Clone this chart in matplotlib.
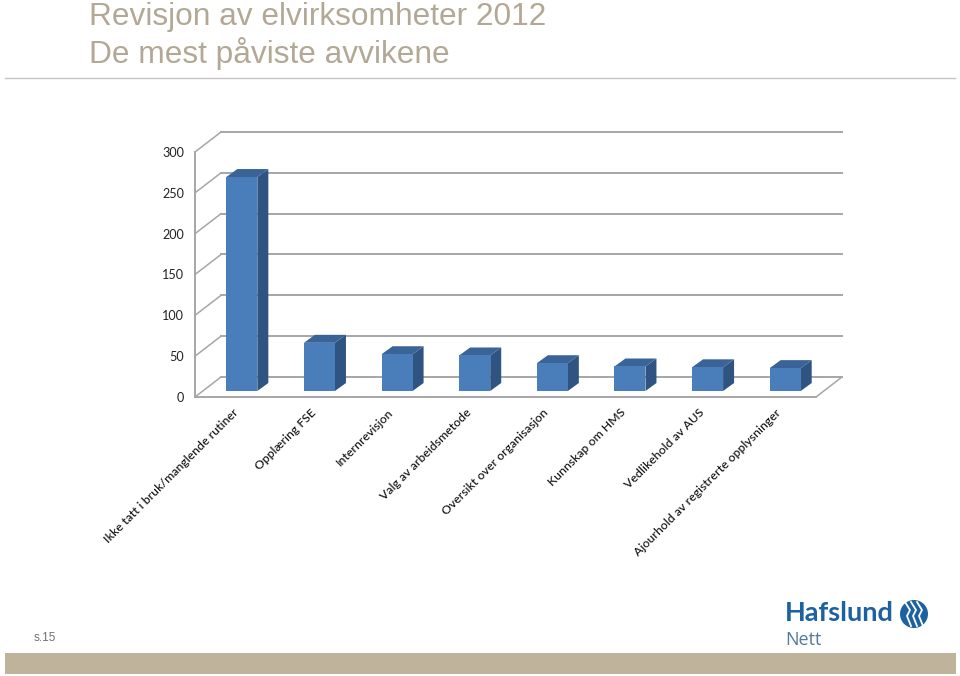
import matplotlib
matplotlib.use("Agg")
import matplotlib.pyplot as plt
from matplotlib.patches import Polygon, Circle, Rectangle
from matplotlib.transforms import ScaledTranslation
from matplotlib.lines import Line2D

categories = ["Ikke tatt i bruk/manglende rutiner", "Opplæring FSE", "Internrevisjon",
              "Valg av arbeidsmetode", "Oversikt over organisasjon", "Kunnskap om HMS",
              "Vedlikehold av AUS", "Ajourhold av registrerte opplysninger"]
values = [262, 59, 45, 43.5, 34, 30, 29, 28]
yticks = [0, 50, 100, 150, 200, 250, 300]
title_lines = ["Revisjon av elvirksomheter 2012", "De mest påviste avvikene"]

W, H = 960, 676
fig = plt.figure(figsize=(W / 100, H / 100), dpi=100, facecolor="white")
bg = fig.add_axes([0, 0, 1, 1]); bg.set_xlim(0, W); bg.set_ylim(H, 0); bg.axis("off")

# Axes = front plane of the 3D box
L, R, Y0, Y300 = 195, 816, 397, 152
ax = fig.add_axes([L / W, 1 - Y0 / H, (R - L) / W, (Y0 - Y300) / H])
ax.set_xlim(-0.5, 7.5); ax.set_ylim(0, 300); ax.axis("off"); ax.patch.set_alpha(0)

def shift(px, py):
    return ax.transData + ScaledTranslation(px / 100, py / 100, fig.dpi_scale_trans)

GRID = "#A6A6A6"
DX, DY = 26, 20
for t in yticks:
    ax.plot([-0.5, 7.5], [t, t], transform=shift(DX, DY), color=GRID, lw=1.4, clip_on=False, zorder=1)
    p0 = ax.transData.transform((-0.5, t))
    wall = Line2D([p0[0], p0[0] + DX], [p0[1], p0[1] + DY], transform=None, color=GRID, lw=1.1, zorder=1)
    fig.add_artist(wall)
    ax.text(-0.5, t, str(t), transform=shift(-11, -1), ha="right", va="center",
            fontsize=9.1, family="Lato", color="#222222", clip_on=False)
ax.plot([-0.5, -0.5], [0, 300], color=GRID, lw=1.4, clip_on=False, zorder=1)
ax.plot([-0.5, 7.5], [0, 0], color=GRID, lw=1.4, clip_on=False, zorder=1)
p0 = ax.transData.transform((7.5, 0))
fig.add_artist(Line2D([p0[0], p0[0] + DX], [p0[1], p0[1] + DY], transform=None, color=GRID, lw=1.1))

# 3D bars
BW = 0.4
OX, OY = 8, 6
SX, SY = 11, 8
for i, v in enumerate(values):
    x0, x1 = i - BW / 2, i + BW / 2
    a = ax.transData.transform([(x0, v), (x1, v), (x1, 0)]) + (OX, OY)
    top = [a[0], a[1], a[1] + (SX, SY), a[0] + (SX, SY)]
    side = [a[1], a[2], a[2] + (SX, SY), a[1] + (SX, SY)]
    fig.add_artist(Polygon(side, closed=True, transform=None, fc="#2F5482", ec="none", zorder=3))
    fig.add_artist(Polygon(top, closed=True, transform=None, fc="#3A6397", ec="none", zorder=3))
    fig.add_artist(Rectangle((a[0][0], a[2][1]), a[1][0] - a[0][0], a[0][1] - a[2][1],
                             transform=None, fc="#4A7EBB", ec="none", zorder=3))
    ax.text(i, 0, categories[i], transform=shift(-1.5, -10), rotation=45, rotation_mode="anchor",
            ha="right", va="top", fontsize=8.8, family="Lato", weight="medium", color="#111111", clip_on=False)

# Title block
TC = "#B3A896"
bg.text(89, 17, title_lines[0], fontsize=22.75, family="Liberation Sans", color=TC, va="center", ha="left")
bg.text(89, 54, title_lines[1], fontsize=22.75, family="Liberation Sans", color=TC, va="center", ha="left")
bg.plot([5, 955], [78, 78], color="#C4C4C4", lw=1)

# Footer
bg.add_patch(Rectangle((5, 653), 951, 21, fc="#BFB39B", ec="none"))
bg.text(34, 638, "s.15", fontsize=8.5, family="Liberation Sans", color="#707070", va="center")
bg.text(785, 613, "Hafslund", fontsize=19.5, family="Lato", weight="bold",
        color="#1D62A0", va="center", ha="left")
bg.text(785, 640, "Nett", fontsize=13, family="Open Sans", color="#55789A", va="center", ha="left")
bg.add_patch(Circle((914, 614), 14, fc="#1D62A0", ec="none"))
for dx in (-6, 0, 6):
    bg.plot([914 + dx - 3, 914 + dx + 2, 914 + dx - 1, 914 + dx + 3],
            [602, 610, 616, 626], color="white", lw=1.3)

fig.savefig("out.png", dpi=100, facecolor="white")
